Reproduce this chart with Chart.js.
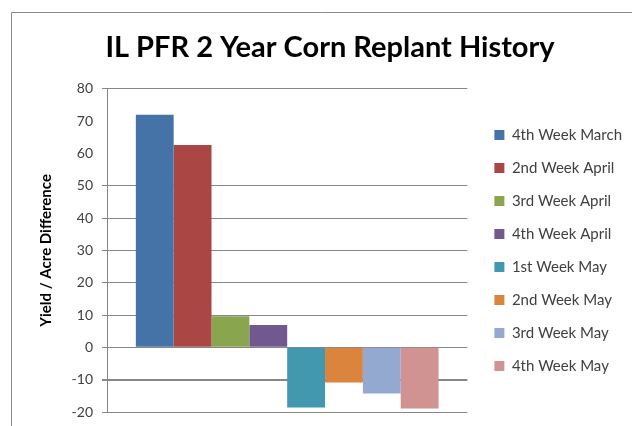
<!DOCTYPE html>
<html>
<head>
<meta charset="utf-8">
<script src="https://cdn.jsdelivr.net/npm/chart.js@4.4.1/dist/chart.umd.min.js"></script>
<style>
  html, body { margin: 0; padding: 0; background: #fff; }
  #chart { display: block; }
</style>
</head>
<body>
<canvas id="chart" width="632" height="426"></canvas>
<script>
// chart data
const categories = [""];
const series_names = ["4th Week March", "2nd Week April", "3rd Week April", "4th Week April",
    "1st Week May", "2nd Week May", "3rd Week May", "4th Week May"];
const series_values = [72.0, 62.6, 9.6, 6.9, -18.6, -10.9, -14.3, -18.9];
const series_colors = ["#4572A7", "#AA4643", "#89A54E", "#71588F", "#4198AF", "#DB843D", "#93A9CF", "#D19392"];
const y_ticks = [80, 70, 60, 50, 40, 30, 20, 10, 0, -10, -20];

const chart_el = document.getElementById("chart");

// outer frame of the chart box
const framePlugin = {
    id: "frame",
    beforeDraw(chart) {
        const ctx = chart.ctx;
        ctx.save();
        ctx.fillStyle = "#ffffff";
        ctx.fillRect(0, 0, chart.width, chart.height);
        ctx.strokeStyle = "#8a8a8a";
        ctx.lineWidth = 1;
        ctx.beginPath();
        ctx.moveTo(11.5, chart.height);
        ctx.lineTo(11.5, 12.5);
        ctx.lineTo(chart.width, 12.5);
        ctx.stroke();
        ctx.restore();
    }
};

const datasets = series_names.map((name, i) => {
    return {
        label: name,
        data: [series_values[i]],
        backgroundColor: series_colors[i],
        borderWidth: 0,
        categoryPercentage: 0.84,
        barPercentage: 1.0
    };
});

new Chart(chart_el, {
    type: "bar",
    data: { labels: categories, datasets: datasets },
    plugins: [framePlugin],
    options: {
        responsive: false,
        animation: false,
        layout: { padding: { top: 0, bottom: 14, left: 28, right: 0 } },
        plugins: {
            title: {
                display: true,
                text: "IL PFR 2 Year Corn Replant History",
                color: "#000",
                font: { family: "Lato", size: 29, weight: "bold" },
                padding: { top: 30, bottom: 24 }
            },
            legend: {
                position: "right",
                fullSize: false,
                maxWidth: 220,
                labels: {
                    boxWidth: 10,
                    boxHeight: 10,
                    padding: 18,
                    color: "#404040",
                    font: { family: "Lato", size: 15 }
                }
            },
            tooltip: { enabled: false }
        },
        scales: {
            x: {
                display: false
            },
            y: {
                min: -20,
                max: 80,
                afterBuildTicks: (scale) => {
                    scale.ticks = y_ticks.map(v => ({ value: v }));
                },
                afterFit: (scale) => {
                    scale.width = 79;
                    scale.paddingTop = 0;
                    scale.paddingBottom = 0;
                },
                border: { display: true, color: "#868686", width: 1 },
                grid: {
                    color: (c) => (c.tick && (c.tick.value === 60 || c.tick.value === 70)) ? "rgba(0,0,0,0)" : "#868686",
                    lineWidth: (c) => (c.tick && c.tick.value === -10) ? 2 : 1,
                    tickLength: 5
                },
                ticks: {
                    padding: 9,
                    color: "#404040",
                    font: { family: "Lato", size: 14 }
                },
                title: {
                    display: true,
                    text: "Yield / Acre Difference",
                    color: "#000",
                    font: { family: "Lato", size: 15, weight: "bold" },
                    padding: { top: 9, bottom: 0 }
                }
            },
            // spacer so the plot stops short of the legend
            gap: {
                position: "right",
                display: true,
                grid: { display: false },
                border: { display: false },
                ticks: { display: false },
                afterFit: (scale) => { scale.width = 9; }
            }
        }
    }
});
</script>
</body>
</html>
